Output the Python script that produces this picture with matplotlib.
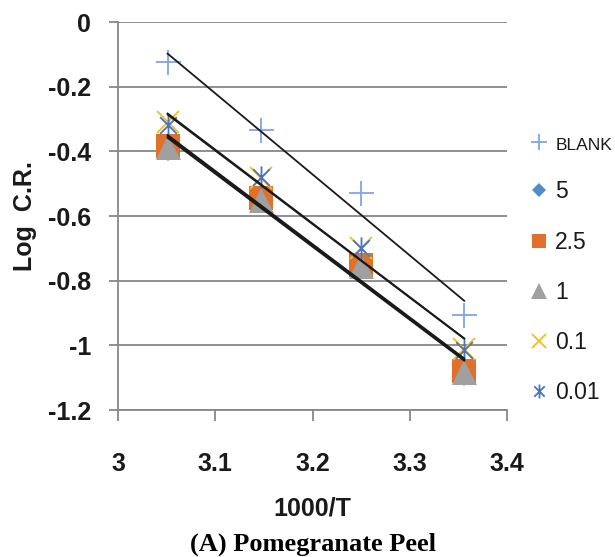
import numpy as np
import matplotlib
matplotlib.use('Agg')
import matplotlib.pyplot as plt
from matplotlib.path import Path

# 1000/T values and Log C.R. for each inhibitor concentration
x = [3.051, 3.147, 3.250, 3.356]
blank = [-0.124, -0.334, -0.530, -0.907]
c5 = [-0.392, -0.552, -0.757, -1.088]
c2_5 = [-0.382, -0.545, -0.750, -1.080]
c1 = [-0.386, -0.549, -0.754, -1.084]
c0_1 = [-0.310, -0.482, -0.698, -1.010]
c0_01 = [-0.318, -0.478, -0.700, -1.013]

labels = ['BLANK', '5', '2.5', '1', '0.1', '0.01']
series = [blank, c5, c2_5, c1, c0_1, c0_01]

yticks = [0, -0.2, -0.4, -0.6, -0.8, -1, -1.2]
ytick_labels = ['0', '-0.2', '-0.4', '-0.6', '-0.8', '-1', '-1.2']
xticks = [3, 3.1, 3.2, 3.3, 3.4]
xtick_labels = ['3', '3.1', '3.2', '3.3', '3.4']

# excel style star marker: vertical bar plus an X
star = Path([(0, -1), (0, 1), (-0.75, -0.75), (0.75, 0.75), (-0.75, 0.75), (0.75, -0.75)],
            [Path.MOVETO, Path.LINETO, Path.MOVETO, Path.LINETO, Path.MOVETO, Path.LINETO])

styles = [
    dict(marker='+', color='#7EA6E0', ms=18, mew=1.3, lms=11),
    dict(marker='D', color='#4F8CCB', ms=12, mew=0, lms=7),
    dict(marker='s', color='#E0702A', ms=17, mew=0, lms=10.5),
    dict(marker='^', color='#A0A0A0', ms=18, mew=0, lms=11),
    dict(marker='x', color='#F5BE1A', ms=16, mew=1.3, lms=10),
    dict(marker=star, color='#4A72C8', ms=16, mew=1.3, lms=10),
]

plt.rcParams['font.family'] = ['Liberation Sans', 'DejaVu Sans']

fig = plt.figure(figsize=(6.15, 5.57), dpi=100)
ax = fig.add_axes([118/615, 1-410/557, (507-118)/615, (410-22)/557])

for lab, ys, st in zip(labels, series, styles):
    ax.plot(x, ys, ls='none', marker=st['marker'], color=st['color'],
            ms=st['ms'], mew=st['mew'], label=lab, zorder=3)

# linear trendlines
xs = np.array([x[0], x[-1]])
for ys in series:
    k, b = np.polyfit(x, ys, 1)
    ax.plot(xs, k*xs + b, color='#1a1a1a', lw=1.3, zorder=4)

ax.set_xlim(3, 3.4)
ax.set_ylim(-1.2, 0)
ax.set_yticks(yticks)
ax.set_yticklabels(ytick_labels)
ax.set_xticks(xticks)
ax.set_xticklabels(xtick_labels)
ax.grid(axis='y', color='#878787', lw=1.3)
ax.set_axisbelow(True)
for s in ['top', 'right', 'bottom']:
    ax.spines[s].set_visible(False)
ax.spines['left'].set_color('#878787')
ax.spines['left'].set_linewidth(1.3)
ax.axhline(-1.2, color='#878787', lw=1.3, clip_on=False, zorder=1)
ax.tick_params(axis='y', length=6.5, width=1.3, color='#878787', pad=13, labelsize=18)
ax.tick_params(axis='x', length=8, width=1.3, color='#878787', pad=22, labelsize=18)
for t in ax.get_xticklabels() + ax.get_yticklabels():
    t.set_fontweight('bold')
    t.set_color('#1a1a1a')

ax.set_xlabel('1000/T', fontsize=18, fontweight='bold', labelpad=15, color='#1a1a1a')
ax.set_ylabel('Log  C.R.', fontsize=18, fontweight='bold', labelpad=8, color='#1a1a1a')

leg_handles = []
for st, lab in zip(styles, labels):
    leg_handles.append(plt.Line2D([], [], ls='none', marker=st['marker'], color=st['color'],
                                  ms=st['lms'], mew=st['mew'], label=lab))
leg = fig.legend(handles=leg_handles, loc='upper left', bbox_to_anchor=(530/615, 1-134/557),
                 frameon=False, fontsize=16.5, handlelength=0.8, handletextpad=0.3,
                 labelspacing=1.19, borderpad=0, borderaxespad=0)
leg.get_texts()[0].set_fontsize(12.5)
for t in leg.get_texts():
    t.set_color('#1a1a1a')

fig.text(313/615, 1-544/557, '(A) Pomegranate Peel', ha='center', va='center',
         fontsize=19, fontweight='bold', family='Liberation Serif')

fig.savefig('out.png', dpi=100)
